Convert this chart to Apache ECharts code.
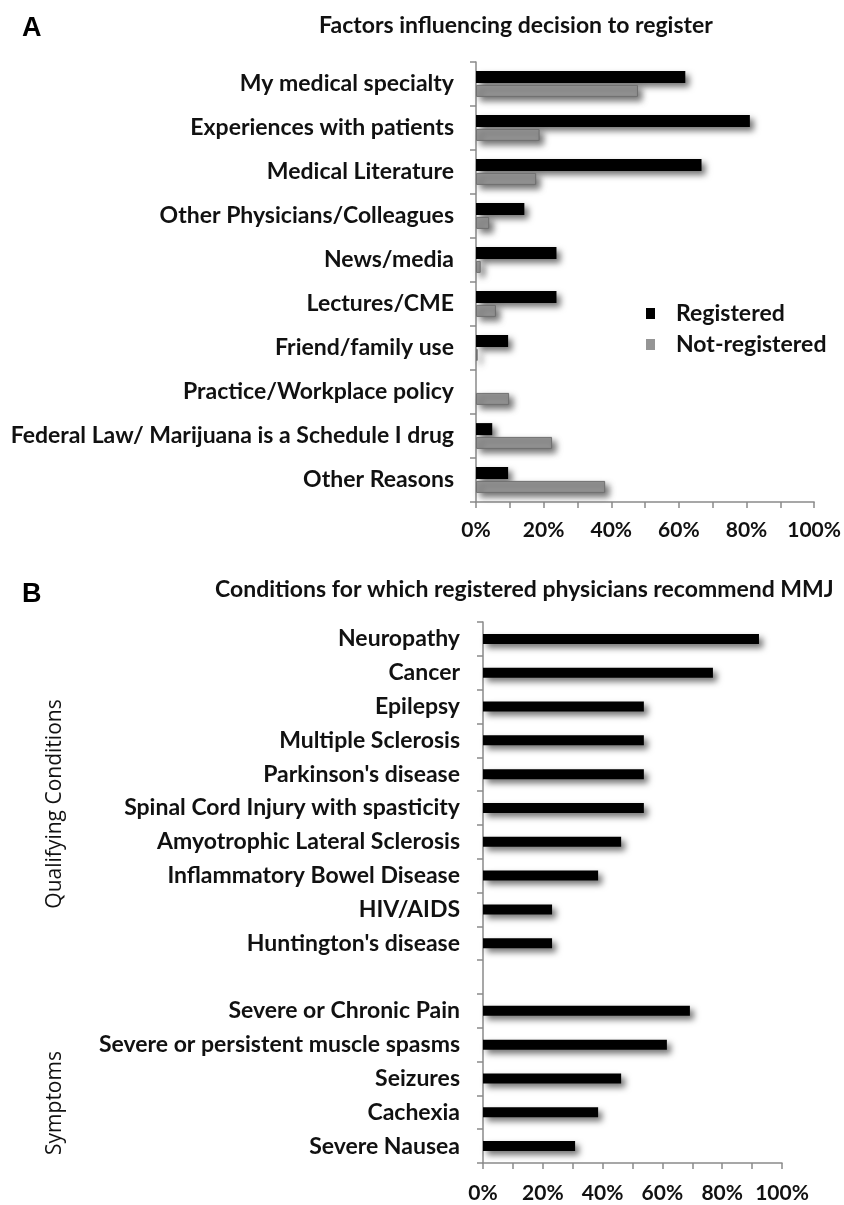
<!DOCTYPE html>
<html>
<head>
<meta charset="utf-8">
<script src="https://cdn.jsdelivr.net/npm/echarts@6/dist/echarts.min.js"></script>
<style>
  html, body { margin: 0; padding: 0; background: #fff; }
  #chart { width: 844px; height: 1205px; }
</style>
</head>
<body>
<div id="chart"></div>
<script>
// panel A: factors influencing decision to register (% of respondents)
var factorNames = ['My medical specialty', 'Experiences with patients', 'Medical Literature',
    'Other Physicians/Colleagues', 'News/media', 'Lectures/CME', 'Friend/family use',
    'Practice/Workplace policy', 'Federal Law/ Marijuana is a Schedule I drug', 'Other Reasons'];
var registered = [61.9, 81.0, 66.7, 14.3, 23.8, 23.8, 9.5, 0, 4.8, 9.5];
var notRegistered = [47.9, 18.8, 17.8, 3.9, 1.4, 5.9, 0.5, 9.8, 22.5, 38.2];

// panel B: conditions for which registered physicians recommend MMJ
var conditionNames = ['Neuropathy', 'Cancer', 'Epilepsy', 'Multiple Sclerosis', "Parkinson's disease",
    'Spinal Cord Injury with spasticity', 'Amyotrophic Lateral Sclerosis', 'Inflammatory Bowel Disease',
    'HIV/AIDS', "Huntington's disease", '',
    'Severe or Chronic Pain', 'Severe or persistent muscle spasms', 'Seizures', 'Cachexia', 'Severe Nausea'];
var recommend = [92.3, 76.9, 53.8, 53.8, 53.8, 53.8, 46.2, 38.5, 23.1, 23.1, null, 69.2, 61.5, 46.2, 38.5, 30.8];

var labelledTicks = [0, 20, 40, 60, 80, 100];

var font = 'Lato';
var axisGray = '#8a8a8a';
var shadow = { shadowColor: 'rgba(0,0,0,0.55)', shadowBlur: 6, shadowOffsetX: 4, shadowOffsetY: 4 };

function pctAxis(gridIndex, margin) {
    return {
        type: 'value', gridIndex: gridIndex, min: 0, max: 100, interval: 10,
        axisLine: { show: true, lineStyle: { color: axisGray, width: 1.5 } },
        axisTick: { show: true, length: 6, lineStyle: { color: axisGray, width: 1.5 } },
        splitLine: { show: false },
        axisLabel: {
            margin: margin, color: '#111', fontFamily: font, fontWeight: 'bold', fontSize: 21,
            formatter: function (v) { return labelledTicks.indexOf(v) >= 0 ? v + '%' : ''; }
        }
    };
}

function catAxis(gridIndex, data, margin) {
    return {
        type: 'category', gridIndex: gridIndex, data: data, inverse: true,
        axisLine: { show: true, lineStyle: { color: axisGray, width: 1.5 } },
        axisTick: { show: true, length: 6, lineStyle: { color: axisGray, width: 1.5 } },
        axisLabel: { margin: margin, color: '#111', fontFamily: font, fontWeight: 'bold', fontSize: 23, interval: 0 }
    };
}

var myChart = echarts.init(document.getElementById('chart'), null, { renderer: 'canvas' });

var option = {
    backgroundColor: '#fff',
    animation: false,
    title: [
        { text: 'A', left: 17, top: 10, textStyle: { fontFamily: 'Liberation Sans', fontWeight: 'bold', fontSize: 27, color: '#000' } },
        { text: 'Factors influencing decision to register', left: 314, top: 9, textStyle: { fontFamily: font, fontWeight: 'bold', fontSize: 23, color: '#111' } },
        { text: 'B', left: 17, top: 576, textStyle: { fontFamily: 'Liberation Sans', fontWeight: 'bold', fontSize: 27, color: '#000' } },
        { text: 'Conditions for which registered physicians recommend MMJ', left: 210, top: 573, textStyle: { fontFamily: font, fontWeight: 'bold', fontSize: 23, color: '#111' } }
    ],
    legend: {
        data: ['Registered', 'Not-registered'],
        orient: 'vertical', left: 641, top: 297,
        icon: 'rect', itemWidth: 9, itemHeight: 11, itemGap: 8,
        itemStyle: { shadowBlur: 0, shadowOffsetX: 0, shadowOffsetY: 0, borderWidth: 0 },
        textStyle: { fontFamily: font, fontWeight: 'bold', fontSize: 23, color: '#111', padding: [0, 0, 0, 16] }
    },
    grid: [
        { left: 476, top: 62, width: 339, height: 440 },
        { left: 483, top: 622, width: 299, height: 541 }
    ],
    xAxis: [pctAxis(0, 18), pctAxis(1, 20)],
    yAxis: [catAxis(0, factorNames, 22), catAxis(1, conditionNames, 23)],
    graphic: [
        { type: 'text', x: 55, y: 804, rotation: Math.PI / 2,
          style: { text: 'Qualifying Conditions', font: '21px "Open Sans"', fill: '#111', align: 'center', verticalAlign: 'middle' } },
        { type: 'text', x: 55, y: 1103, rotation: Math.PI / 2,
          style: { text: 'Symptoms', font: '21px "Open Sans"', fill: '#111', align: 'center', verticalAlign: 'middle' } }
    ],
    series: [
        {
            name: 'Registered', type: 'bar', xAxisIndex: 0, yAxisIndex: 0,
            barWidth: 12, barGap: '15%', data: registered,
            itemStyle: Object.assign({ color: '#000' }, shadow)
        },
        {
            name: 'Not-registered', type: 'bar', xAxisIndex: 0, yAxisIndex: 0,
            barWidth: 12, data: notRegistered,
            itemStyle: Object.assign({ color: '#959595', borderColor: '#6f6f6f', borderWidth: 1 }, shadow)
        },
        {
            name: 'Recommend', type: 'bar', xAxisIndex: 1, yAxisIndex: 1,
            barWidth: 10, data: recommend,
            itemStyle: Object.assign({ color: '#000' }, shadow)
        }
    ]
};

myChart.setOption(option);
</script>
</body>
</html>
